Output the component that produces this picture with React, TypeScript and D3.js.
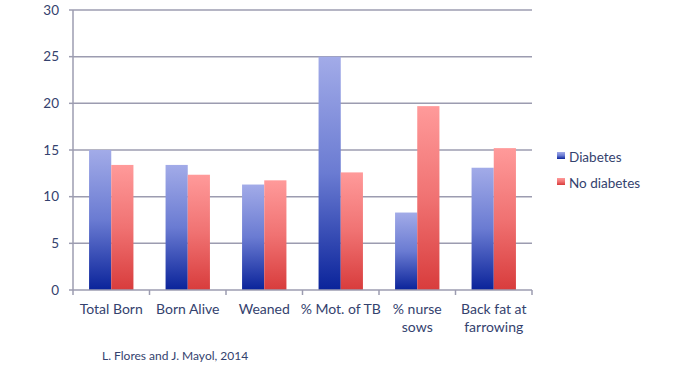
import React from 'react'
import * as d3 from 'd3'

const categories = ['Total Born', 'Born Alive', 'Weaned', '% Mot. of TB', '% nurse sows', 'Back fat at farrowing']
const labelLines = [['Total Born'], ['Born Alive'], ['Weaned'], ['% Mot. of TB'], ['% nurse', 'sows'], ['Back fat at', 'farrowing']]
const diabetes = [15.0, 13.4, 11.3, 25.0, 8.3, 13.1]
const noDiabetes = [13.4, 12.35, 11.75, 12.6, 19.7, 15.2]
const seriesNames = ['Diabetes', 'No diabetes']
const yTicks = [0, 5, 10, 15, 20, 25, 30]

const W = 680, H = 372
const m = { left: 73, right: 148, top: 10, bottom: 82 }
const textColor = '#34426e'
const gridColor = '#9c9cb0'
const font = 'Lato, "Open Sans", sans-serif'

const App = () => {
    const x = d3.scaleBand().domain(categories).range([m.left, W - m.right]).paddingInner(0.42).paddingOuter(0.21)
    const y = d3.scaleLinear().domain([0, 30]).range([H - m.bottom, m.top])
    const inner = d3.scaleBand().domain(seriesNames).range([0, x.bandwidth()])
    // tick marks sit on the category boundaries
    const edges = d3.scaleLinear().domain([0, categories.length]).range([m.left, W - m.right])
    const fills = ['url(#gradBlue)', 'url(#gradRed)']
    const values = [diabetes, noDiabetes]
    const y0 = y(0)

    return (
        <svg width={W} height={H} style={{ position: 'absolute', left: 0, top: 0, background: '#fff' }}>
            <defs>
                <linearGradient id="gradBlue" x1="0" y1="0" x2="0" y2="1">
                    <stop offset="0%" stopColor="#a2abe8" />
                    <stop offset="50%" stopColor="#6a7bd2" />
                    <stop offset="100%" stopColor="#0a239a" />
                </linearGradient>
                <linearGradient id="gradRed" x1="0" y1="0" x2="0" y2="1">
                    <stop offset="0%" stopColor="#ff9a9a" />
                    <stop offset="50%" stopColor="#f07272" />
                    <stop offset="100%" stopColor="#d83c3c" />
                </linearGradient>
            </defs>
            {/* gridlines */}
            {yTicks.filter(t => t > 0).map(t => (
                <line key={t} x1={m.left} x2={W - m.right} y1={y(t)} y2={y(t)} stroke={gridColor} strokeWidth={1.5} />
            ))}
            {/* y ticks */}
            {yTicks.map(t => (
                <g key={'yt' + t}>
                    <line x1={m.left - 4} x2={m.left} y1={y(t)} y2={y(t)} stroke={gridColor} strokeWidth={1.5} />
                    <text x={m.left - 14} y={y(t)} dy="0.35em" textAnchor="end" fill={textColor} fontSize={13.5} fontFamily={font}>{t}</text>
                </g>
            ))}
            {/* bars */}
            {categories.map((c, i) => seriesNames.map((s, k) => {
                const v = values[k][i]
                return <rect key={c + s} x={(x(c) as number) + (inner(s) as number)} y={y(v)} width={inner.bandwidth()} height={y0 - y(v)} fill={fills[k]} />
            }))}
            {/* axes */}
            <line x1={m.left} x2={m.left} y1={m.top} y2={y0 + 5} stroke={gridColor} strokeWidth={1.5} />
            <line x1={m.left} x2={W - m.right} y1={y0} y2={y0} stroke={gridColor} strokeWidth={1.5} />
            {categories.map((c, i) => (
                <line key={'xt' + c} x1={edges(i + 1)} x2={edges(i + 1)} y1={y0} y2={y0 + 5} stroke={gridColor} strokeWidth={1.5} />
            ))}
            {/* category labels */}
            {categories.map((c, i) => {
                const cx = (x(c) as number) + x.bandwidth() / 2
                return (
                    <text key={'lab' + c} x={cx} y={y0 + 24} textAnchor="middle" fill={textColor} fontSize={14} fontFamily={font}>
                        {labelLines[i].map((l, j) => <tspan key={j} x={cx} dy={j === 0 ? 0 : 18}>{l}</tspan>)}
                    </text>
                )
            })}
            {/* legend */}
            {seriesNames.map((s, k) => (
                <g key={'lg' + s} transform={`translate(557, ${157 + k * 26})`}>
                    <rect x={0} y={-5} width={8} height={7} fill={fills[k]} />
                    <text x={12} y={0} dy="0.35em" fill={textColor} fontSize={13.5} fontFamily={font}>{s}</text>
                </g>
            ))}
            <text x={102} y={360} fill={textColor} fontSize={12} fontFamily={font}>L. Flores and J. Mayol, 2014</text>
        </svg>
    )
}

export default App
